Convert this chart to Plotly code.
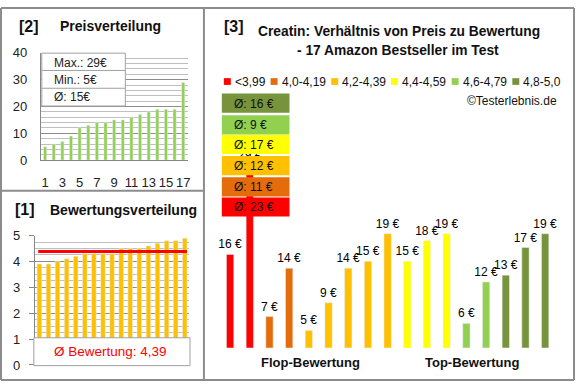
import math
import plotly.graph_objects as go

# ---------------- data ----------------
products = list(range(1, 18))
prices = [16, 29, 7, 14, 5, 9, 14, 15, 19, 15, 18, 19, 6, 12, 13, 17, 19]
ratings = [3.9, 3.9, 4.0, 4.1, 4.2, 4.3, 4.3, 4.3, 4.3, 4.5, 4.5, 4.5, 4.6, 4.7, 4.8, 4.8, 4.9]
group_labels = ["<3,99", "4,0-4,19", "4,2-4,39", "4,4-4,59", "4,6-4,79", "4,8-5,0"]
group_limits = [4.0, 4.2, 4.4, 4.6, 4.8, 99]
group_colors = ["#FF0000", "#E46C0A", "#FFC000", "#FFFF00", "#92D050", "#77933C"]
axis_labels = ["Flop-Bewertung", "Top-Bewertung"]
price_ticks = [0, 10, 20, 30, 40]
rating_ticks = [0, 1, 2, 3, 4, 5]

W, H = 580, 390
FONT = "Liberation Sans, Arial, sans-serif"


def px(x):
    return x / W


def py(y):
    return 1 - y / H


def half_up(v):
    return int(math.floor(v + 0.5))


def group_of(r):
    for i, lim in enumerate(group_limits):
        if r < lim - 1e-9:
            return i
    return len(group_limits) - 1


groups = [group_of(r) for r in ratings]
bar_colors = [group_colors[g] for g in groups]
sorted_prices = sorted(prices)
mean_rating = sum(ratings) / len(ratings)

fig = go.Figure()

# price distribution (panel 2)
fig.add_trace(go.Bar(x=products, y=sorted_prices, marker_color="#92D050", width=0.36,
                     xaxis="x", yaxis="y", showlegend=False, hoverinfo="skip"))
# rating distribution (panel 1)
fig.add_trace(go.Bar(x=products, y=ratings, marker_color="#FFC000", width=0.5,
                     xaxis="x2", yaxis="y2", showlegend=False, hoverinfo="skip"))
# main chart (panel 3)
fig.add_trace(go.Bar(x=products, y=prices, marker_color=bar_colors, width=0.37,
                     text=[f"{p} €" for p in prices], textposition="outside",
                     constraintext="none", cliponaxis=False,
                     textfont=dict(size=12, color="#000", family=FONT),
                     xaxis="x3", yaxis="y3", showlegend=False, hoverinfo="skip"))

shapes = []
ann = []
GRAY = "#8C8C8C"


def text(t, x, y, size=12, color="#111", xanchor="center", bold=False):
    ann.append(dict(text=f"<b>{t}</b>" if bold else t, x=px(x), y=py(y), xref="paper",
                    yref="paper", xanchor=xanchor, yanchor="middle", showarrow=False,
                    font=dict(size=size, color=color, family=FONT)))


# panel borders
for (x0, y0, x1, y1) in [(1, 1, 577, 1), (1, 388, 577, 388), (1, 1, 1, 388),
                         (577, 1, 577, 388), (205, 1, 205, 388), (1, 191, 205, 191)]:
    shapes.append(dict(type="line", xref="paper", yref="paper", x0=px(x0), y0=py(y0),
                       x1=px(x1), y1=py(y1), line=dict(color=GRAY, width=2), layer="above"))

# price stats box
pmax, pmin = max(prices), min(prices)
pmean = half_up(sum(prices) / len(prices))
shapes.append(dict(type="rect", xref="paper", yref="paper", x0=px(42), x1=px(126),
                   y0=py(48), y1=py(103), fillcolor="white", line=dict(color="#A0A0A0", width=1),
                   layer="above"))
for yy in (66, 84.5):
    shapes.append(dict(type="line", xref="paper", yref="paper", x0=px(42), x1=px(126),
                       y0=py(yy), y1=py(yy), line=dict(color="#A0A0A0", width=1), layer="above"))
for t, yy in [(f"Max.: {pmax}€", 58), (f"Min.: {pmin}€", 76), (f"Ø: {pmean}€", 94)]:
    text(t, 52, yy, size=12, color="#222", xanchor="left")

# rating mean line + box
shapes.append(dict(type="line", xref="x2 domain", yref="y2", x0=0.022, x1=0.985,
                   y0=mean_rating, y1=mean_rating, line=dict(color="#FF0000", width=3), layer="above"))
shapes.append(dict(type="rect", xref="paper", yref="paper", x0=px(34), x1=px(191),
                   y0=py(344), y1=py(373), fillcolor="white", line=dict(color="#A0A0A0", width=1),
                   layer="above"))
text(f"Ø Bewertung: {mean_rating:.2f}".replace(".", ","), 111, 358, size=13.5, color="#FF0000")

# panel titles
text("[2]", 17, 20, size=16, xanchor="left", bold=True)
text("Preisverteilung", 58, 20, size=14, xanchor="left", bold=True)
text("[1]", 13, 211, size=16, xanchor="left", bold=True)
text("Bewertungsverteilung", 48, 211, size=14, xanchor="left", bold=True)
text("[3]", 223, 20, size=16, xanchor="left", bold=True)
text("Creatin: Verhältnis von Preis zu Bewertung", 401, 25, size=13.8, bold=True)
text("- 17 Amazon Bestseller im Test", 400, 45, size=13.8, bold=True)

# legend
leg_x = [225, 272, 333, 393, 454, 515]
for lx, lab, col in zip(leg_x, group_labels, group_colors):
    shapes.append(dict(type="rect", xref="paper", yref="paper", x0=px(lx), x1=px(lx + 7),
                       y0=py(74), y1=py(81), fillcolor=col, line=dict(width=0)))
    text(lab, lx + 9, 77.5, size=12, xanchor="left")
text("©Testerlebnis.de", 562, 98, size=12, xanchor="right")

# group average boxes (top: best group)
box_top = [90, 112.5, 133, 155, 177, 198]
for i, g in enumerate(reversed(range(len(group_labels)))):
    vals = [p for p, gg in zip(prices, groups) if gg == g]
    avg = half_up(sum(vals) / len(vals))
    t = box_top[i]
    shapes.append(dict(type="rect", xref="paper", yref="paper", x0=px(223), x1=px(291),
                       y0=py(t), y1=py(t + 20), fillcolor=group_colors[g], line=dict(width=0),
                       layer="above"))
    text(f"Ø: {avg} €", 233, t + 10.5, size=12, xanchor="left")

# category labels main chart
for t, x in zip(axis_labels, [312, 474]):
    text(t, x, 370, size=13, bold=True)

tickfont = dict(size=13, color="#222", family=FONT)
fig.update_layout(
    width=W, height=H, margin=dict(l=0, r=0, t=0, b=0),
    paper_bgcolor="white", plot_bgcolor="rgba(0,0,0,0)",
    shapes=shapes, annotations=ann, showlegend=False,
    xaxis=dict(domain=[px(41), px(188.5)], range=[0.5, 17.5], tickvals=list(range(1, 18, 2)),
               showgrid=False, showline=True, linecolor="#868686", linewidth=1, ticks="",
               tickfont=tickfont, ticklabelstandoff=10, zeroline=False, fixedrange=True),
    yaxis=dict(domain=[py(159.3), py(47.7)], range=[0, 40], tickvals=price_ticks, showgrid=True,
               gridcolor="#8C8C8C", gridwidth=1, showline=True, linecolor="#868686",
               minor=dict(dtick=2, showgrid=True, gridcolor="#BFBFBF", gridwidth=1),
               tickfont=tickfont, ticklabelstandoff=10, zeroline=False, ticks=""),
    xaxis2=dict(domain=[px(35), px(190.3)], range=[0.5, 17.5], showticklabels=False,
                showgrid=False, showline=False, zeroline=False, anchor="y2"),
    yaxis2=dict(domain=[py(372.3), py(237.7)], range=[0, 5], tickvals=rating_ticks, showgrid=True,
                gridcolor="#8C8C8C", showline=True, linecolor="#868686", ticks="outside",
                ticklen=5, tickcolor="#868686", ticklabeloverflow="allow",
                minor=dict(dtick=0.25, showgrid=True, gridcolor="#BFBFBF"),
                tickfont=tickfont, ticklabelstandoff=6, zeroline=False, anchor="x2"),
    xaxis3=dict(domain=[px(221.4), px(557.9)], range=[0.5, 17.5], visible=False, anchor="y3"),
    yaxis3=dict(domain=[py(354.3), py(90)], range=[2.5, 39.3], visible=False, anchor="x3"),
)

fig.write_html("out.html", config={"displayModeBar": False},
               post_script="document.body.style.margin='0px';")
